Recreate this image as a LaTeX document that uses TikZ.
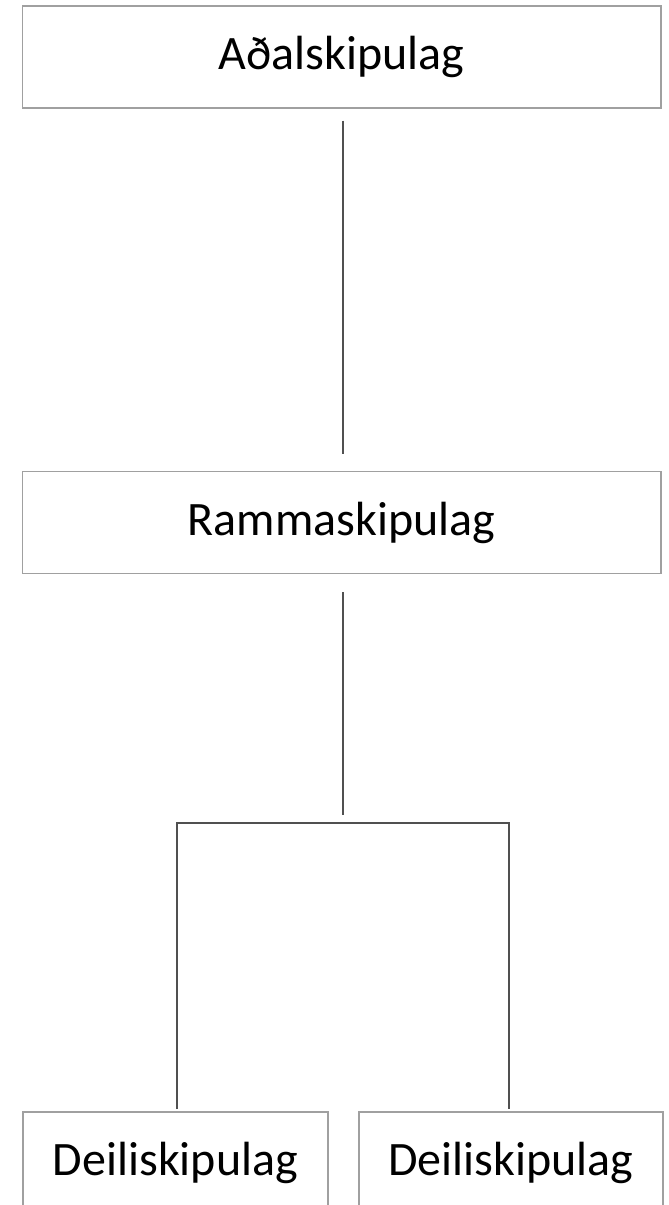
\documentclass[tikz,border=0pt]{standalone}
\usepackage{fontspec}
\setmainfont{Carlito}
\definecolor{boxgray}{HTML}{A0A0A0}
\definecolor{linegray}{HTML}{505050}
\begin{document}
\begin{tikzpicture}[x=0.75pt,y=-0.75pt,
  box/.style={draw=boxgray, line width=1pt, inner sep=0pt, minimum height=76.5pt,
    font=\fontsize{36}{43}\selectfont},
  conn/.style={draw=linegray, line width=0.9pt}]
\useasboundingbox (0,0) rectangle (668,1205);
\clip (0,0) rectangle (668,1205);
\node[box, minimum width=479pt] (a) at (341.5,57) {Aðalskipulag};
\node[box, minimum width=479pt] (r) at (341.5,522.5) {Rammaskipulag};
\node[box, minimum width=228.75pt] (d1) at (175.5,1163) {Deiliskipulag};
\node[box, minimum width=228pt] (d2) at (511,1163) {Deiliskipulag};
\coordinate (j) at (343,815);
\coordinate (hl) at (177,823);
\coordinate (hr) at (509,823);
\coordinate (e1) at (177,1109);
\coordinate (e2) at (509,1109);
\draw[conn] ([yshift=-9pt]a.south -| j) -- ([yshift=12.75pt]r.north -| j);
\draw[conn] ([yshift=-13.5pt]r.south -| j) -- (j);
\draw[conn] (e1) -- (hl) -- (hr) -- (e2);
\end{tikzpicture}
\end{document}
